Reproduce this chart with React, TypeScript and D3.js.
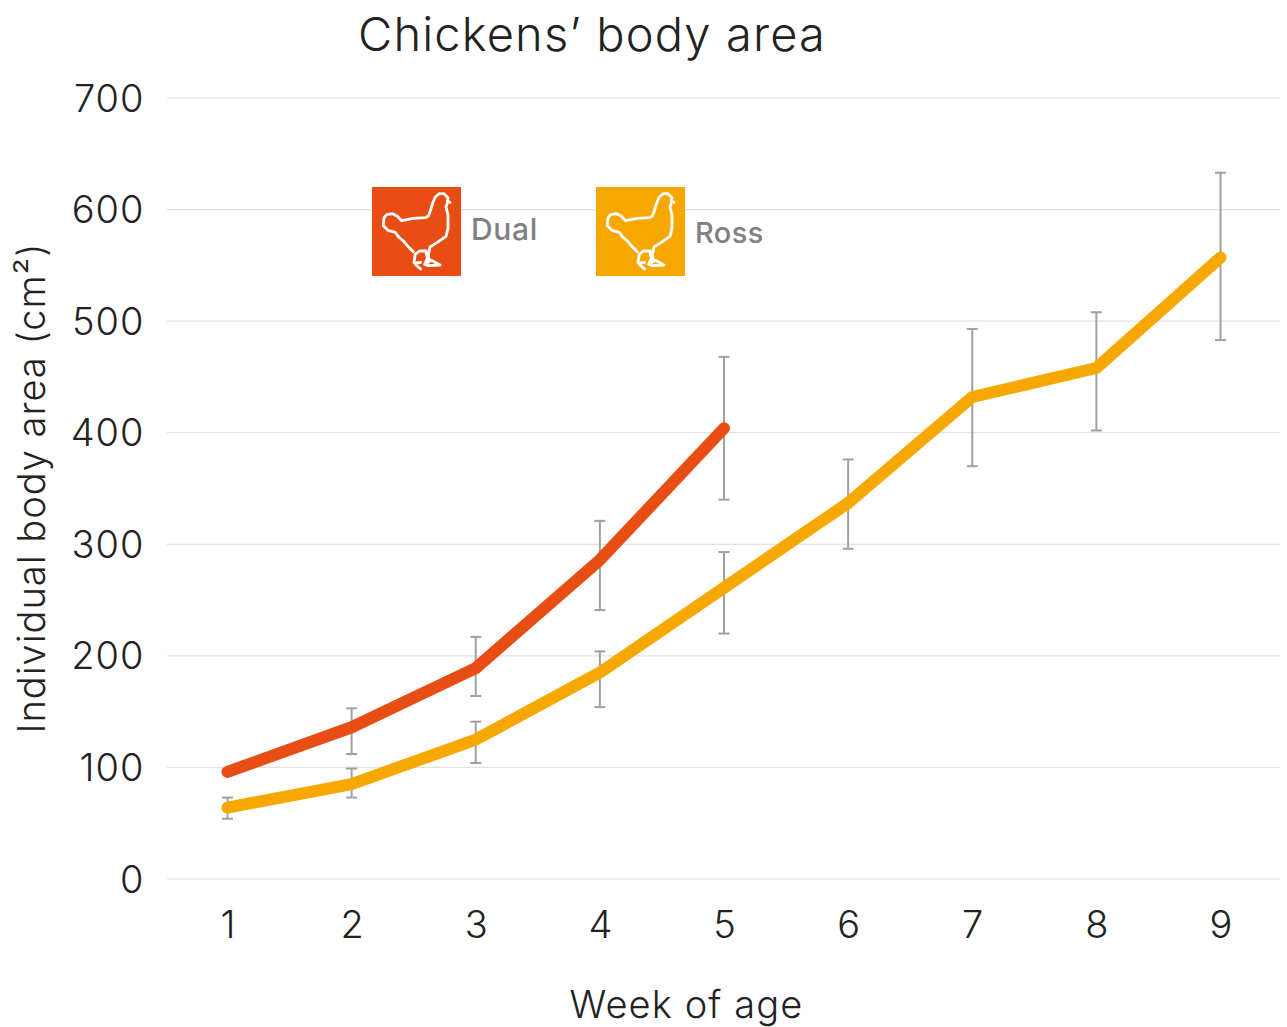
import React from "react";
import * as d3 from "d3";

const title = "Chickens’ body area";
const xLabel = "Week of age";
const weeks = [1, 2, 3, 4, 5, 6, 7, 8, 9];
const yTicks = [0, 100, 200, 300, 400, 500, 600, 700];

const dualWeeks = [1, 2, 3, 4, 5];
const dualValues = [96, 136, 189, 286, 404];
const dualLow = [null, 112, 164, 241, 340];
const dualHigh = [null, 153, 217, 321, 468];

const rossWeeks = [1, 2, 3, 4, 5, 6, 7, 8, 9];
const rossValues = [64, 85, 125, 185, 261, 337, 432, 458, 557];
const rossLow = [54, 73, 104, 154, 220, 296, 370, 402, 483];
const rossHigh = [73, 99, 141, 204, 293, 376, 493, 508, 633];

const DUAL = "#E84E14";
const ROSS = "#F7A800";
const FONT = "Inter, 'Noto Sans', sans-serif";
const INK = "#222222";

const hen =
  "M270 82 L262 78 L264 68 L252 56 L238 56 L226 66 L218 84 L212 104 L206 122 L196 128 L160 130 L125 137 L112 124 L98 116 L80 119 L72 128 L70 152 L84 166 L106 172 L116 186 L130 198 L142 212 L160 230 " +
  "M262 84 L258 96 L264 120 L264 160 L258 184 L232 202 L210 216 L205 238 L208 258 " +
  "M198 228 L178 228 L166 238 L162 262 L170 272 L182 282 M170 264 L182 262 M198 230 L202 250 L194 268 L214 256 L240 270 L206 272 L194 268";

function Hen({ x, y, fill }: { x: number; y: number; fill: string }) {
  return (
    <g transform={`translate(${x},${y})`}>
      <rect width={89} height={89} fill={fill} />
      <path
        d={hen}
        transform="translate(-12,-12) scale(0.3333)"
        fill="none"
        stroke="#fff"
        strokeWidth={8.5}
        strokeLinejoin="round"
        strokeLinecap="round"
      />
    </g>
  );
}

export default function App() {
  const x = d3.scaleLinear().domain([1, 9]).range([227.5, 1220.5]);
  const y = d3.scaleLinear().domain([0, 700]).range([879, 98]);
  const line = d3
    .line<number>()
    .x((_, i) => x(i + 1))
    .y((d) => y(d));

  const bars = (low: (number | null)[], high: (number | null)[], wk: number[]) =>
    wk.map((w, i) => {
      const lo = low[i];
      const hi = high[i];
      if (lo == null || hi == null) return null;
      const cx = x(w);
      return (
        <g key={w} stroke="#a0a0a0" strokeWidth={2} fill="none">
          <line x1={cx} x2={cx} y1={y(lo)} y2={y(hi)} />
          <line x1={cx - 5.5} x2={cx + 5.5} y1={y(lo)} y2={y(lo)} />
          <line x1={cx - 5.5} x2={cx + 5.5} y1={y(hi)} y2={y(hi)} />
        </g>
      );
    });

  return (
    <svg
      width={1287}
      height={1027}
      style={{ position: "absolute", left: 0, top: 0, background: "#fff" }}
      fontFamily={FONT}
    >
      <text x={592} y={51} textAnchor="middle" fontSize={47} fontWeight={300} letterSpacing={1.15} fill={INK}>
        {title}
      </text>

      {yTicks.map((t) => (
        <g key={t}>
          <line x1={167} x2={1280} y1={y(t)} y2={y(t)} stroke="#e2e2e2" strokeWidth={1.2} />
          <text x={144.5} y={y(t) + 13.5} textAnchor="end" fontSize={38} fontWeight={300} letterSpacing={1} fill={INK}>
            {t}
          </text>
        </g>
      ))}

      {weeks.map((w) => (
        <text key={w} x={x(w) + 0.5} y={938} textAnchor="middle" fontSize={38} fontWeight={300} fill={INK}>
          {w}
        </text>
      ))}

      <text x={686.5} y={1018} textAnchor="middle" fontSize={38} fontWeight={300} letterSpacing={1.1} fill={INK}>
        {xLabel}
      </text>
      <text
        transform="translate(44.5,488) rotate(-90)"
        textAnchor="middle"
        fontSize={38}
        fontWeight={300}
        letterSpacing={1}
        fill={INK}
      >
        Individual body area (cm²)
      </text>

      {bars(dualLow, dualHigh, dualWeeks)}
      {bars(rossLow, rossHigh, rossWeeks)}

      <path d={line(rossValues) ?? ""} fill="none" stroke={ROSS} strokeWidth={12} strokeLinecap="round" strokeLinejoin="round" />
      <path d={line(dualValues) ?? ""} fill="none" stroke={DUAL} strokeWidth={12} strokeLinecap="round" strokeLinejoin="round" />

      <Hen x={372} y={187} fill={DUAL} />
      <Hen x={596} y={187} fill={ROSS} />
      <text x={471} y={240} fontSize={30} fontWeight={500} letterSpacing={0.7} fill="#808080">Dual</text>
      <text x={695} y={243} fontSize={29} fontWeight={500} letterSpacing={0.4} fill="#808080">Ross</text>
    </svg>
  );
}
